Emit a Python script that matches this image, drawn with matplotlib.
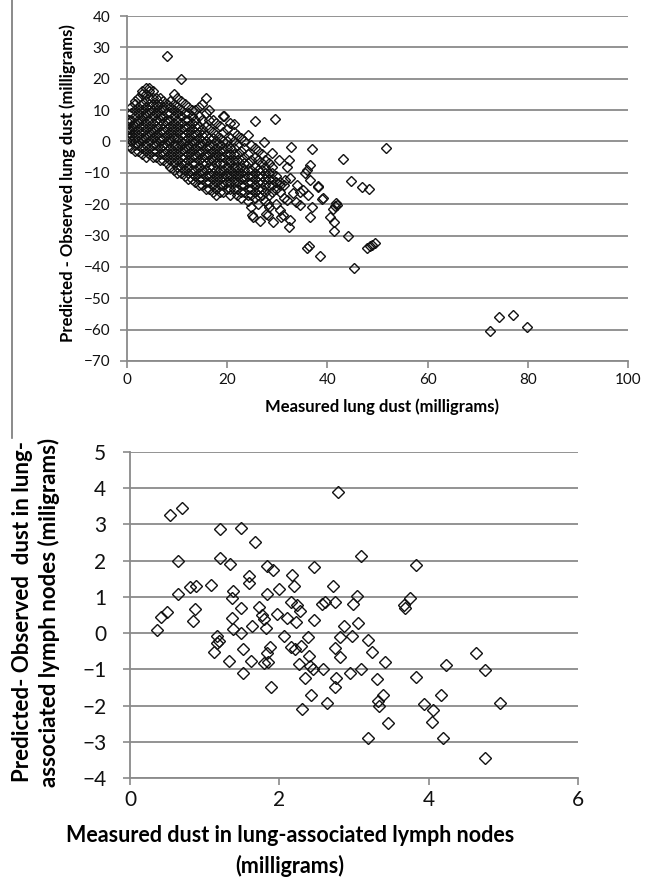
import matplotlib.pyplot as plt
from matplotlib.lines import Line2D

# ---- top panel: measured lung dust vs residual (mg) ----
lung_col_x = [0.3, 0.8, 1.5, 2.2, 3.0, 3.7, 4.4, 5.1, 5.8, 6.5, 7.2, 7.9, 8.6, 9.3,
              10.0, 10.7, 11.5, 12.2, 12.9, 13.6, 14.3, 15.0, 15.7, 16.4, 17.1,
              17.8, 18.5, 19.2, 19.9, 20.6, 21.3, 22.0, 22.7, 23.4, 24.1, 24.8,
              25.5, 26.2, 26.9, 27.6, 28.3, 29.0, 29.8, 30.5, 31.3]
lung_col_y = [
    [-1, 1, 3, 4, 6, 7],
    [-2, 0, 2, 4, 5, 7, 9, 11],
    [-3, -1, 1, 3, 5, 6, 8, 10, 12, 13],
    [-3, -1, 0, 2, 4, 6, 7, 9, 11, 14],
    [-4, -2, 0, 1, 3, 5, 7, 8, 10, 12, 15, 16],
    [-5, -3, -1, 1, 2, 4, 6, 8, 9, 11, 13, 15, 17],
    [-4, -2, 0, 2, 3, 5, 7, 9, 10, 12, 14, 16, 17],
    [-5, -3, -1, 1, 3, 4, 6, 8, 10, 12, 14, 16],
    [-5, -3, -1, 0, 2, 4, 5, 7, 9, 11, 12, 14],
    [-6, -4, -2, 0, 1, 3, 5, 7, 8, 10, 12, 14],
    [-6, -4, -3, -1, 1, 3, 4, 6, 8, 10, 11, 13],
    [-7, -5, -3, -1, 0, 2, 4, 6, 7, 9, 12, 27.4],
    [-8, -6, -4, -2, 0, 1, 3, 5, 7, 9, 11, 13],
    [-9, -7, -5, -3, -1, 1, 2, 4, 6, 8, 10, 12, 15],
    [-10, -8, -6, -4, -2, -1, 1, 3, 5, 7, 9, 11, 14],
    [-10, -8, -7, -5, -3, -1, 0, 2, 4, 6, 8, 10, 13, 20],
    [-11, -9, -7, -5, -3, -2, 0, 2, 4, 5, 7, 9, 12],
    [-12, -10, -8, -6, -4, -2, -1, 1, 3, 5, 7, 9, 11],
    [-12, -10, -9, -7, -5, -3, -1, 0, 2, 4, 6, 8, 10],
    [-13, -11, -9, -7, -5, -4, -2, 0, 2, 3, 5, 7, 10],
    [-14, -12, -10, -8, -6, -4, -3, -1, 1, 3, 5, 8, 11],
    [-14, -12, -10, -9, -7, -5, -3, -1, 0, 2, 4, 7, 12],
    [-15, -13, -11, -9, -7, -5, -4, -2, 0, 2, 5, 9, 14],
    [-15, -13, -11, -10, -8, -6, -4, -2, -1, 1, 4, 7, 10],
    [-16, -14, -12, -10, -8, -6, -5, -3, -1, 1, 3, 7],
    [-17, -15, -13, -11, -9, -7, -5, -4, -2, 0, 2, 6],
    [-16, -14, -12, -10, -9, -7, -5, -3, -1, 1, 5],
    [-16, -14, -13, -11, -9, -7, -5, -3, -2, 0, 3, 8],
    [-15, -13, -11, -10, -8, -6, -4, -2, 0, 4],
    [-17, -15, -13, -11, -9, -7, -6, -4, -2, 1, 6],
    [-15, -13, -12, -10, -8, -6, -4, -2, 0, 3],
    [-17, -15, -13, -11, -9, -8, -6, -4, -1, 2],
    [-18, -16, -14, -12, -10, -8, -6, -3, 1],
    [-16, -14, -12, -11, -9, -7, -5, -2, 0],
    [-19, -17, -15, -13, -11, -9, -7, -4, 2],
    [-21, -17, -15, -13, -11, -9, -6, -1],
    [-18, -16, -14, -12, -10, -8, -5, -2],
    [-20, -17, -15, -13, -11, -9, -6, -3],
    [-17, -15, -13, -11, -9, -7, -4],
    [-19, -16, -14, -12, -10, -8, -6],
    [-21, -17, -14, -12, -10, -7],
    [-16, -14, -12, -10, -8],
    [-20, -15, -13, -11],
    [-22, -16, -13],
    [-18, -14],
]
# scattered points outside the cluster
lung_tail_x = [51.7, 43.2, 44.8, 47.0, 48.4, 44.1, 45.4, 48.0, 48.5, 49.0, 49.5,
               36.0, 36.3, 38.5, 41.4, 41.4, 40.5, 41.5, 41.8, 41.2, 39.0, 38.1,
               37.0, 36.5, 35.9, 36.5, 36.9, 36.2, 35.2, 34.5, 32.7, 32.4, 32.0,
               32.5, 32.4, 32.5, 31.1, 29.1, 28.1, 26.5, 24.9, 28.1, 29.5, 25.5,
               21.4, 19.4, 27.4, 28.9, 30.4, 31.5, 34.5, 33.9, 25.2, 27.8, 30.8,
               33.2, 33.7, 31.9, 35.6, 36.6, 39.2, 41.9, 38.2, 30.5,
               72.5, 74.3, 77.0, 79.8]
lung_tail_y = [-2.2, -5.7, -12.5, -14.6, -15.3, -30.0, -40.5, -34.0, -33.4, -32.9, -32.3,
               -34.0, -33.4, -36.4, -28.5, -25.6, -24.0, -20.5, -19.6, -21.5, -18.4, -14.2,
               -2.4, -7.5, -9.1, -24.0, -20.8, -17.1, -15.5, -20.2, -1.9, -5.9, -8.0,
               -11.7, -27.2, -25.0, -23.4, -25.6, -23.4, -25.4, -23.4, -19.9, 7.1, 6.6,
               5.6, 8.1, -0.1, -3.6, -5.9, -12.3, -16.0, -14.0, -24.0, -23.0, -24.0,
               -16.5, -19.3, -18.7, -10.2, -12.3, -18.1, -20.2, -14.4, -14.0,
               -60.3, -56.1, -55.3, -59.3]

# ---- bottom panel: lymph node dust vs residual (mg) ----
lymph_x = [0.36, 0.42, 0.49, 0.54, 0.70, 0.64, 0.64, 0.81, 0.89, 0.87, 0.84, 1.09,
           1.13, 1.17, 1.19, 1.16, 1.20, 1.20, 1.34, 1.38, 1.37, 1.36, 1.38, 1.32,
           1.49, 1.49, 1.49, 1.51, 1.51, 1.60, 1.60, 1.63, 1.62, 1.68, 1.73, 1.77,
           1.79, 1.82, 1.84, 1.83, 1.92, 1.88, 1.84, 1.80, 1.85, 1.89, 1.99, 1.97,
           2.10, 2.06, 2.17, 2.19, 2.15, 2.24, 2.28, 2.22, 2.16, 2.21, 2.29, 2.26,
           2.34, 2.31, 2.38, 2.40, 2.41, 2.45, 2.42, 2.46, 2.46, 2.57, 2.61, 2.59,
           2.64, 2.78, 2.72, 2.74, 2.74, 2.76, 2.74, 2.81, 2.81, 2.87, 2.99, 3.04,
           2.97, 2.94, 3.09, 3.06, 3.09, 3.19, 3.24, 3.19, 3.31, 3.32, 3.33, 3.39,
           3.42, 3.45, 3.67, 3.68, 3.75, 3.83, 3.83, 3.94, 4.06, 4.04, 4.16, 4.23,
           4.19, 4.63, 4.76, 4.76, 4.96]
lymph_y = [0.08, 0.44, 0.58, 3.26, 3.45, 1.99, 1.08, 1.26, 1.31, 0.66, 0.33, 1.32,
           -0.53, -0.07, -0.21, -0.28, 2.87, 2.08, 1.92, 1.17, 0.98, 0.42, 0.12, -0.77,
           2.89, 0.70, 0.00, -0.43, -1.11, 1.58, 1.37, 0.19, -0.78, 2.52, 0.73, 0.49,
           0.38, 0.15, 1.09, 1.86, 1.73, -0.39, -0.55, -0.83, -0.80, -1.49, 1.21, 0.53,
           0.43, -0.09, 1.60, 1.30, 0.86, 0.78, 0.62, 0.32, -0.37, -0.44, -0.35, -0.85,
           -1.23, -2.10, -0.11, -0.62, -0.90, -0.99, -1.71, 1.83, 0.36, 0.81, 0.85, -0.98,
           -1.93, 3.89, 1.29, 0.85, -0.42, -1.23, -1.50, -0.11, -0.65, 0.21, 0.81, 1.02,
           -0.09, -1.11, 2.14, 0.27, -1.00, -0.18, -0.53, -2.89, -1.28, -1.87, -2.02, -1.71,
           -0.79, -2.47, 0.77, 0.70, 0.96, 1.88, -1.20, -1.95, -2.13, -2.46, -1.70, -0.89,
           -2.89, -0.54, -1.01, -3.44, -1.94]

lung_x = [x for x, ys in zip(lung_col_x, lung_col_y) for _ in ys] + lung_tail_x
lung_y = [y for ys in lung_col_y for y in ys] + lung_tail_y

W, H = 654, 877
GRID = '#8a8a8a'
plt.rcParams['font.family'] = ['Lato', 'DejaVu Sans']


def box(l, t, r, b):
    return [l / W, 1 - b / H, (r - l) / W, (b - t) / H]


def style_axes(ax, tick_size, pad):
    ax.grid(axis='y', color=GRID, linewidth=1.3)
    ax.set_axisbelow(True)
    for side in ('top', 'right'):
        ax.spines[side].set_visible(False)
    for side in ('left', 'bottom'):
        ax.spines[side].set_color(GRID)
        ax.spines[side].set_linewidth(1.3)
    ax.tick_params(direction='out', length=5, width=1.2, color=GRID,
                   labelsize=tick_size, labelcolor='#111111')
    ax.tick_params(axis='y', pad=pad)
    ax.tick_params(axis='x', pad=4)


fig = plt.figure(figsize=(W / 100, H / 100), dpi=100)

# stray panel border on the far left
fig.add_artist(Line2D([12 / W, 12 / W], [1.0, 1 - 438 / H], color='#777777',
                      linewidth=1.2, transform=fig.transFigure))

ax1 = fig.add_axes(box(127, 16, 628, 361))
ax1.plot(lung_x, lung_y, linestyle='none', marker='D', markersize=4.6,
         markerfacecolor='none', markeredgecolor='#111111', markeredgewidth=1.0)
ax1.set_xlim(0, 100)
ax1.set_ylim(-70, 40)
ax1.set_xticks(range(0, 101, 20))
ax1.set_yticks(range(-70, 41, 10))
style_axes(ax1, 11, 7)
fig.text(382 / W, 1 - 407 / H, 'Measured lung dust (milligrams)', ha='center',
         va='center', fontsize=12, fontweight='bold')
fig.text(68 / W, 1 - 183 / H, 'Predicted - Observed lung dust (milligrams)',
         ha='center', va='center', rotation=90, fontsize=12, fontweight='bold')

ax2 = fig.add_axes(box(130, 452, 578, 778))
ax2.plot(lymph_x, lymph_y, linestyle='none', marker='D', markersize=6.0,
         markerfacecolor='none', markeredgecolor='#111111', markeredgewidth=1.0)
ax2.set_xlim(0, 6)
ax2.set_ylim(-4, 5)
ax2.set_xticks(range(0, 7, 2))
ax2.set_yticks(range(-4, 6))
style_axes(ax2, 15, 12)
fig.text(290 / W, 1 - 851 / H, 'Measured dust in lung-associated lymph nodes\n(milligrams)',
         ha='center', va='center', fontsize=15.5, fontweight='bold', linespacing=1.45)
fig.text(36 / W, 1 - 612 / H,
         'Predicted- Observed  dust in lung-\nassociated lymph nodes (miligrams)',
         ha='center', va='center', rotation=90, fontsize=16, fontweight='bold',
         linespacing=1.3)

fig.savefig('out.png', dpi=100)
